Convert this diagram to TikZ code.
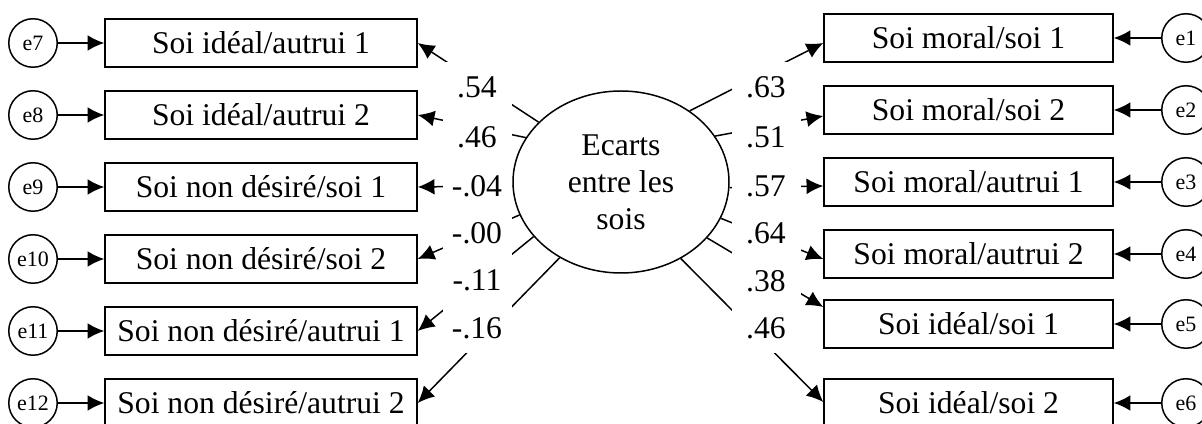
\documentclass[tikz,border=0pt]{standalone}
\usepackage{fontspec}
\setmainfont{Liberation Serif}
\usetikzlibrary{shapes, arrows.meta, positioning}

\tikzset{
  obs/.style={draw, minimum height=0.96cm, inner sep=0pt},
  err/.style={draw, circle, minimum size=0.97cm, inner sep=0pt, font=\fontsize{12.5}{14}\selectfont},
  coef/.style={fill=white, minimum width=1.38cm, minimum height=1.0cm, inner sep=0pt},
}

\begin{document}
\begin{tikzpicture}[x=0.2mm, y=-0.2mm, >={Latex[length=9.5pt, width=9pt]}, line width=0.85pt, font=\fontsize{18}{21}\selectfont]
    \useasboundingbox (0,0) rectangle (1202,424);

    % latent variable
    \node[draw, ellipse, minimum width=4.32cm, minimum height=3.64cm, inner sep=0pt, align=center] (ecarts) at (621,182) {Ecarts\\entre les\\sois};

    % left indicators
    \node[obs, minimum width=6.24cm] (lb1) at (261,43)  {Soi idéal/autrui 1};
    \node[obs, minimum width=6.24cm] (lb2) at (261,115) {Soi idéal/autrui 2};
    \node[obs, minimum width=6.24cm] (lb3) at (261,187) {Soi non désiré/soi 1};
    \node[obs, minimum width=6.24cm] (lb4) at (261,259) {Soi non désiré/soi 2};
    \node[obs, minimum width=6.24cm] (lb5) at (261,331) {Soi non désiré/autrui 1};
    \node[obs, minimum width=6.24cm] (lb6) at (261,403) {Soi non désiré/autrui 2};

    \node[err] (e7)  at (33,43)  {e7};
    \node[err] (e8)  at (33,115) {e8};
    \node[err] (e9)  at (33,187) {e9};
    \node[err] (e10) at (33,259) {e10};
    \node[err] (e11) at (33,331) {e11};
    \node[err] (e12) at (33,403) {e12};

    % right indicators
    \node[obs, minimum width=5.78cm] (rb1) at (968.5,38)  {Soi moral/soi 1};
    \node[obs, minimum width=5.78cm] (rb2) at (968.5,110) {Soi moral/soi 2};
    \node[obs, minimum width=5.78cm] (rb3) at (968.5,182) {Soi moral/autrui 1};
    \node[obs, minimum width=5.78cm] (rb4) at (968.5,254) {Soi moral/autrui 2};
    \node[obs, minimum width=5.78cm] (rb5) at (968.5,324) {Soi idéal/soi 1};
    \node[obs, minimum width=5.78cm] (rb6) at (968.5,403) {Soi idéal/soi 2};

    \node[err] (e1) at (1186,38)  {e1};
    \node[err] (e2) at (1186,110) {e2};
    \node[err] (e3) at (1186,182) {e3};
    \node[err] (e4) at (1186,254) {e4};
    \node[err] (e5) at (1186,324) {e5};
    \node[err] (e6) at (1186,403) {e6};

    % error terms
    \foreach \i/\e in {1/7, 2/8, 3/9, 4/10, 5/11, 6/12} {
      \draw[->] (e\e) -- (lb\i);
    };
    \foreach \i in {1,...,6} {
      \draw[->] (e\i) -- (rb\i);
    };

    % loadings
    \foreach \a/\b in {144.9/lb1, 155.1/lb2, 182.5/lb3, 198.9/lb4, 212.8/lb5, 231.6/lb6} {
      \draw[->] (ecarts.\a) -- (\b.east);
    };
    \foreach \a/\b/\s in {46.2/rb1/-1mm, 26.1/rb2/-1.2mm, 357.5/rb3/-0.8mm, 340.7/rb4/-1mm, 327.2/rb5/3.4mm, 308.4/rb6/0.2mm} {
      \draw[->] (ecarts.\a) -- ([yshift=\s]\b.west);
    };

    \foreach \n/\y/\v in {1/87/.54, 2/137/.46, 3/186/-.04, 4/233/-.00, 5/280/-.11, 6/328/-.16} {
      \node[coef] (ll\n) at (477,\y) {\v};
    };
    \foreach \n/\y/\v in {1/87/.63, 2/137/.51, 3/186/.57, 4/233/.64, 5/281/.38, 6/328/.46} {
      \node[coef] (rl\n) at (766,\y) {\v};
    };
\end{tikzpicture}
\end{document}
